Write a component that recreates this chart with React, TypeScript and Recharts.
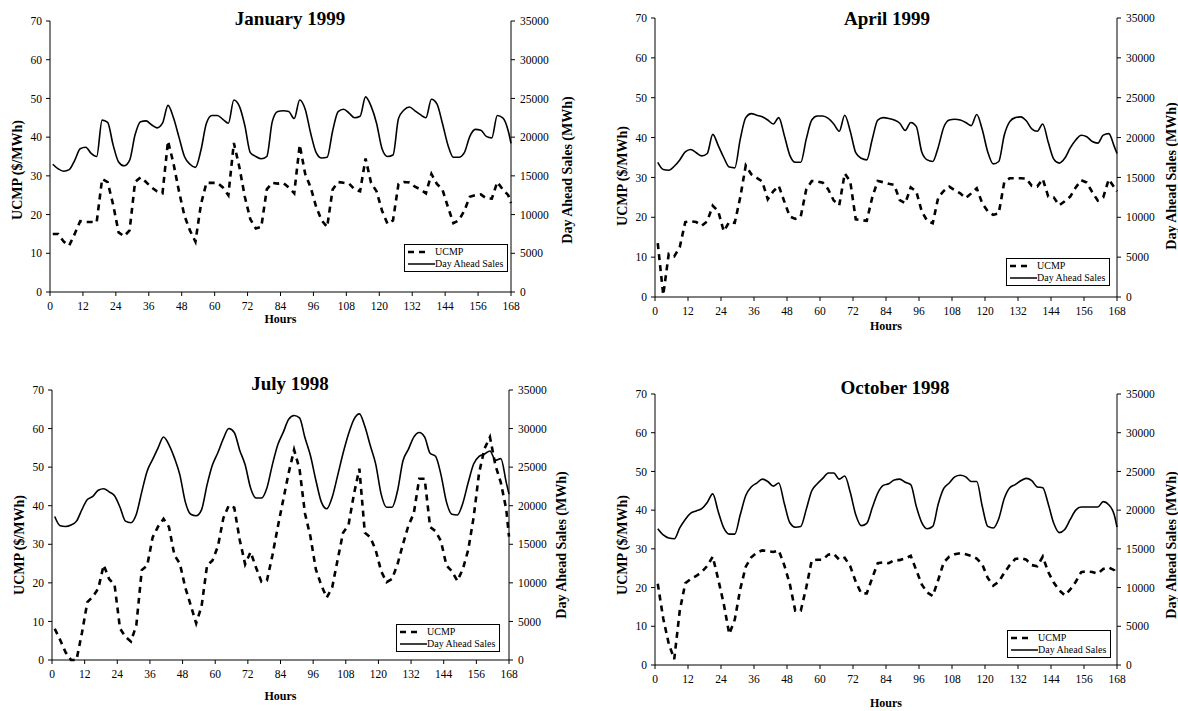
import React from "react";
import { LineChart, Line, XAxis, YAxis } from "recharts";

// hours 1,3,5,...,167 and 168
const HOURS = [...Array.from({ length: 84 }, (_, i) => 1 + 2 * i), 168];
const X_TICKS = [0, 12, 24, 36, 48, 60, 72, 84, 96, 108, 120, 132, 144, 156, 168];
const UCMP_TICKS = [0, 10, 20, 30, 40, 50, 60, 70];
const SALES_TICKS = [0, 5000, 10000, 15000, 20000, 25000, 30000, 35000];

// January 1999
const JAN_UCMP = [
  15, 15, 13, 12, 15, 18.3, 18.1, 18.1, 18, 29.2,
  28.4, 22.6, 15.4, 14.4, 15.9, 28.4, 29.6, 28.4, 27, 26,
  25.5, 39, 33.2, 26, 19.7, 15.9, 13, 22.6, 28.2, 28.2,
  28.2, 27, 25, 38.5, 32.3, 24.6, 18.8, 16.4, 16.8, 26.5,
  28.2, 28, 28.2, 27, 25.5, 38, 30.5, 27, 22, 18.5,
  16.8, 26.5, 28.4, 28.2, 28, 26.5, 26, 34.5, 28.2, 26,
  21, 17.6, 18.5, 27.9, 28.4, 28.3, 27.2, 26.5, 25.5, 30.5,
  27.9, 26.5, 22, 17.8, 18.5, 21, 24.6, 25, 25.2, 24.2,
  24.1, 28.4, 26.5, 25, 23,
];
const JAN_SALES = [
  16500, 15900, 15600, 15800, 17000, 18500, 18700, 17900, 17500, 22200,
  21900, 19000, 16800, 16300, 17000, 20300, 22000, 22100, 21600, 21200,
  21800, 24100, 22500, 20000, 17500, 16500, 16100, 18300, 21800, 22800,
  22800, 22300, 21800, 24800, 24000, 21500, 18000, 17500, 17200, 17500,
  22000, 23300, 23400, 23300, 22400, 24800, 23600, 20500, 18000, 17300,
  17400, 20800, 23300, 23600, 23100, 22500, 22700, 25200, 24000, 21800,
  18500, 17500, 17700, 22400, 23500, 23900, 23400, 22900, 22500, 24900,
  24300, 21800, 19000, 17400, 17400, 18000, 20100, 21000, 20900, 20100,
  19900, 22800, 22500, 20800, 19200,
];

// April 1999
const APR_UCMP = [
  13.5, 0.5, 10.8, 10.2, 12.5, 18.8, 19, 18.8, 17.9, 19,
  22.9, 21.5, 16.5, 18.8, 18.6, 25, 33, 30.8, 29.9, 29,
  24.5, 26.5, 27.9, 24, 20.2, 19.6, 20.2, 27, 29.1, 29,
  28.7, 27, 24.2, 23, 31, 29, 19.5, 19.3, 19.1, 25,
  29.1, 28.8, 28.4, 28.1, 24.3, 23.5, 27.5, 26.5, 21.5, 19.1,
  18.5, 25, 26.6, 27.7, 26.8, 26, 24.8, 26, 27.3, 23.5,
  21.5, 20.6, 21, 28.8, 29.8, 29.8, 29.8, 29.7, 27.9, 27.7,
  29.6, 25.2, 25, 23, 24, 25.2, 27.5, 29.3, 28.7, 26.3,
  24.2, 25, 29.5, 27.5, 26.5,
];
const APR_SALES = [
  16900, 16000, 15900, 16400, 17200, 18200, 18500, 18100, 17700, 18000,
  20400, 19000, 17500, 16300, 16200, 19800, 22500, 23000, 22800, 22600,
  22200, 21700, 22500, 20300, 17800, 16900, 16900, 19800, 22200, 22700,
  22700, 22400, 21700, 20800, 22800, 20800, 18100, 17400, 17200, 19800,
  22200, 22500, 22400, 22200, 21800, 20900, 21900, 21400, 18200, 17200,
  17000, 18800, 21300, 22200, 22300, 22200, 21900, 21500, 22900, 21000,
  18200, 16700, 17000, 20300, 22000, 22500, 22600, 22100, 21100, 20800,
  21700, 19400, 17300, 16800, 17400, 18700, 19700, 20300, 20100, 19500,
  19300, 20300, 20500, 18900, 18000,
];

// July 1998
const JUL_UCMP = [
  8.1, 5.2, 2, 0, 0, 7, 15, 16.4, 18.5, 24.6,
  21, 19.5, 8.2, 6, 4.8, 9, 23.3, 24.5, 31.8, 34.6,
  36.6, 34.5, 27.2, 25, 18.8, 14.2, 9.5, 14, 24.5, 25.8,
  29.5, 36.8, 40.1, 39.5, 31.2, 24.8, 28, 24, 20.3, 20.6,
  27, 34.5, 41.5, 48.5, 54.5, 49.5, 38, 32, 23.5, 19.4,
  16.2, 18.8, 26, 33, 35, 43, 49.6, 33, 31.8, 28.5,
  23, 20.2, 21, 24.8, 30, 34.8, 38, 47, 47, 34.5,
  33.4, 30.8, 24.5, 23, 20.5, 23.5, 28.5, 37, 48.5, 54.8,
  57.8, 50.5, 46, 39, 32,
];
const JUL_SALES = [
  18600, 17400, 17300, 17500, 18000, 19500, 20800, 21200, 22000, 22200,
  21800, 21300, 19800, 18000, 17800, 18900, 21800, 24500, 26000, 27500,
  28900, 27900, 26200, 24000, 20500, 18900, 18700, 19500, 22700, 25300,
  26900, 28700, 30000, 29500, 27200, 25300, 22300, 21000, 21000, 22300,
  25300, 27900, 29500, 31200, 31700, 31400, 28800, 26500, 23300, 20500,
  19600, 21100, 23900, 26800, 29300, 31200, 31900, 30300, 27800, 25400,
  21500, 19800, 19800, 21900, 25800, 27300, 28900, 29500, 28900, 26800,
  26400, 24000, 20500, 18900, 18800, 20300, 23000, 25400, 26400, 26700,
  27100, 25900, 26100, 23000, 21500,
];

// October 1998
const OCT_UCMP = [
  21, 12, 5.5, 1.5, 14, 21.1, 22.2, 23, 24, 25.6,
  28, 22.1, 15.8, 8, 11.7, 19.6, 25.4, 27.8, 29, 29.6,
  29.4, 29.2, 29.6, 25.8, 21, 14, 14, 20, 27, 27.2,
  27.2, 28.5, 28.7, 27.2, 27.7, 25.5, 21.5, 18.5, 18.5, 22.5,
  26.3, 26.5, 26.3, 27.1, 27.1, 27.5, 28.2, 24.5, 20.8, 18.7,
  17.8, 22, 26.5, 28, 28.6, 28.9, 28.6, 28.2, 27.5, 26,
  22.5, 20.5, 21.5, 23.8, 25.8, 27.4, 27.6, 27.2, 25.8, 25.5,
  28, 24, 21.3, 19.3, 18, 19.5, 21.5, 24, 24.2, 24,
  23.6, 24.8, 25.2, 24.5, 23.2,
];
const OCT_SALES = [
  17600, 16800, 16400, 16300, 17700, 18800, 19600, 19900, 20200, 21000,
  22100, 19800, 17700, 16900, 16900, 19400, 21900, 23000, 23500, 24000,
  23700, 23100, 23500, 20900, 18400, 17800, 17900, 20100, 22500, 23400,
  24100, 24800, 24800, 24000, 24400, 22300, 19400, 18000, 18300, 20300,
  22200, 23200, 23400, 23900, 24000, 23600, 23300, 20500, 18400, 17600,
  17900, 20800, 22800, 23500, 24300, 24500, 24300, 23700, 23700, 20500,
  17900, 17700, 18900, 21500, 22900, 23300, 23800, 24100, 23800, 23000,
  22900, 20800, 18300, 17100, 17500, 18800, 20000, 20400, 20400, 20400,
  20400, 21100, 20700, 19400, 17800,
];

const FONT = '"Liberation Serif", "Times New Roman", serif';
const LEFT_W = 45;
const RIGHT_W = 60;
const X_H = 30;

const PANELS = [
  { title: "January 1999", ucmp: JAN_UCMP, sales: JAN_SALES, x0: 50, y0: 21, x1: 511, y1: 292, titleX: 290, titleY: 18, legX: 404, legY: 244, labelY: 170, leftX: 18, rightX: 568, hoursY: 319 },
  { title: "April 1999", ucmp: APR_UCMP, sales: APR_SALES, x0: 655, y0: 18, x1: 1117, y1: 297, titleX: 887, titleY: 18, legX: 1006, legY: 258, labelY: 176, leftX: 623, rightX: 1172, hoursY: 326 },
  { title: "July 1998", ucmp: JUL_UCMP, sales: JUL_SALES, x0: 52, y0: 390, x1: 509, y1: 660, titleX: 290, titleY: 383, legX: 396, legY: 624, labelY: 545, leftX: 20, rightX: 562, hoursY: 696 },
  { title: "October 1998", ucmp: OCT_UCMP, sales: OCT_SALES, x0: 655, y0: 394, x1: 1117, y1: 665, titleX: 895, titleY: 387, legX: 1007, legY: 630, labelY: 545, leftX: 623, rightX: 1172, hoursY: 703 },
];

const tickStyle = { fill: "#000", fontSize: 11.5, fontFamily: FONT };

function Centered({ x, y, rotate, style, children }: any) {
  return (
    <div
      style={{
        position: "absolute",
        left: x,
        top: y,
        transform: `translate(-50%, -50%)${rotate ? " rotate(-90deg)" : ""}`,
        whiteSpace: "nowrap",
        fontFamily: FONT,
        color: "#000",
        lineHeight: 1,
        ...style,
      }}
    >
      {children}
    </div>
  );
}

function LegendBox({ x, y }: { x: number; y: number }) {
  return (
    <div
      style={{
        position: "absolute",
        left: x,
        top: y,
        width: 102,
        height: 26,
        border: "1px solid #000",
        background: "#fff",
        fontFamily: FONT,
        fontSize: 10,
        color: "#000",
      }}
    >
      <svg width={30} height={26} style={{ position: "absolute", left: 0, top: 0 }}>
        <line x1={3} y1={7} x2={24} y2={7} stroke="#000" strokeWidth={2.6} strokeDasharray="6 5" />
        <line x1={3} y1={19} x2={30} y2={19} stroke="#000" strokeWidth={1.5} />
      </svg>
      <div style={{ position: "absolute", left: 30, top: 1, lineHeight: "12px" }}>UCMP</div>
      <div style={{ position: "absolute", left: 30, top: 13, lineHeight: "12px" }}>Day Ahead Sales</div>
    </div>
  );
}

function Panel({ p }: { p: (typeof PANELS)[number] }) {
  const data = HOURS.map((h, i) => ({ h, ucmp: p.ucmp[i], sales: p.sales[i] }));
  const left = p.x0 - LEFT_W;
  const top = p.y0 - 8;
  const width = p.x1 - left + RIGHT_W;
  const height = p.y1 - top + X_H;
  return (
    <>
      <div style={{ position: "absolute", left, top }}>
        <LineChart width={width} height={height} data={data} margin={{ top: 8, right: 0, bottom: 0, left: 0 }}>
          <XAxis
            dataKey="h"
            type="number"
            domain={[0, 168]}
            ticks={X_TICKS}
            interval={0}
            height={X_H}
            tick={tickStyle}
            tickSize={4}
            tickMargin={6}
            axisLine={{ stroke: "#000" }}
            tickLine={{ stroke: "#000" }}
          />
          <YAxis
            yAxisId="ucmp"
            orientation="left"
            domain={[0, 70]}
            ticks={UCMP_TICKS}
            interval={0}
            width={LEFT_W}
            tick={tickStyle}
            tickSize={4}
            tickMargin={4}
            axisLine={{ stroke: "#000" }}
            tickLine={{ stroke: "#000" }}
          />
          <YAxis
            yAxisId="sales"
            orientation="right"
            domain={[0, 35000]}
            ticks={SALES_TICKS}
            interval={0}
            width={RIGHT_W}
            tick={tickStyle}
            tickSize={4}
            tickMargin={5}
            axisLine={{ stroke: "#000" }}
            tickLine={{ stroke: "#000" }}
          />
          <Line
            yAxisId="sales"
            dataKey="sales"
            type="monotone"
            stroke="#000"
            strokeWidth={1.6}
            dot={false}
            isAnimationActive={false}
          />
          <Line
            yAxisId="ucmp"
            dataKey="ucmp"
            type="linear"
            stroke="#000"
            strokeWidth={2.6}
            strokeDasharray="6 5"
            dot={false}
            isAnimationActive={false}
          />
        </LineChart>
      </div>
      <Centered x={p.titleX} y={p.titleY} style={{ fontSize: 19, fontWeight: "bold" }}>
        {p.title}
      </Centered>
      <Centered x={p.leftX} y={p.labelY} rotate style={{ fontSize: 14, fontWeight: "bold" }}>
        UCMP ($/MWh)
      </Centered>
      <Centered x={p.rightX} y={p.labelY} rotate style={{ fontSize: 14, fontWeight: "bold" }}>
        Day Ahead Sales (MWh)
      </Centered>
      <Centered x={(p.x0 + p.x1) / 2} y={p.hoursY} style={{ fontSize: 12, fontWeight: "bold" }}>
        Hours
      </Centered>
      <LegendBox x={p.legX} y={p.legY} />
    </>
  );
}

export default function App() {
  return (
    <div style={{ position: "absolute", left: 0, top: 0, width: 1178, height: 711, background: "#fff", overflow: "hidden" }}>
      {PANELS.map((p) => (
        <Panel key={p.title} p={p} />
      ))}
    </div>
  );
}
